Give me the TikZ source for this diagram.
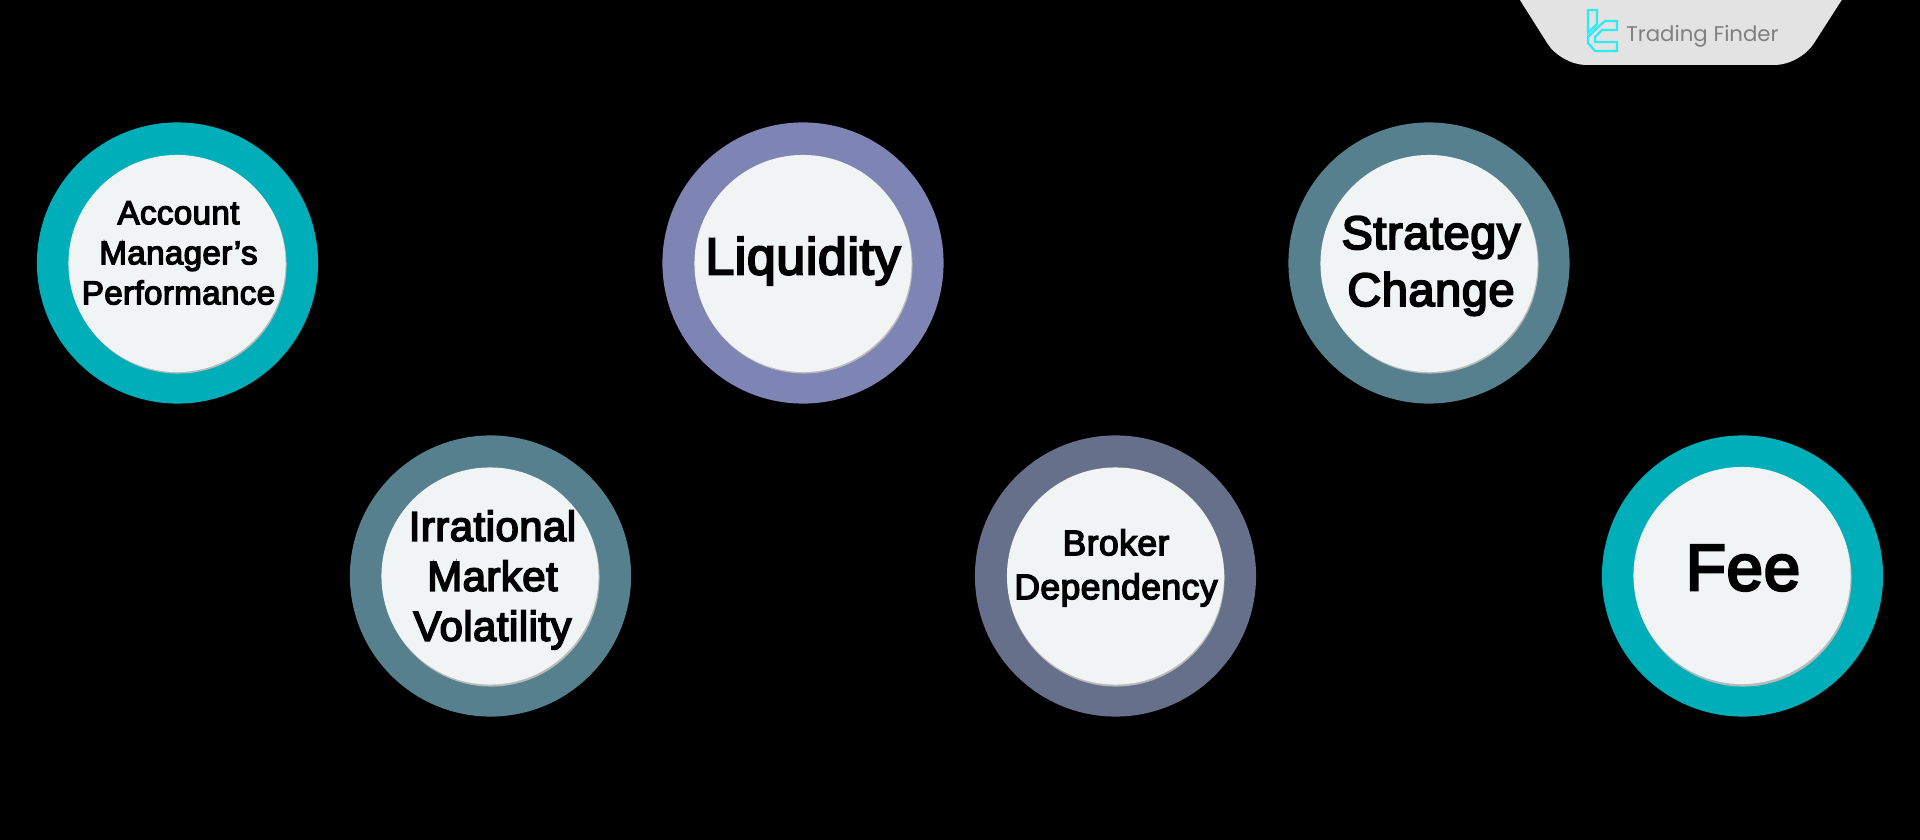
\documentclass[tikz,border=0pt]{standalone}
\usepackage{fontspec}
\setmainfont{Liberation Sans}
\newfontfamily\capfont{Liberation Sans}[FakeBold=4,LetterSpace=1.2]
\newfontfamily\brandfont{Poppins}
\definecolor{tealrim}{HTML}{00AEB9}
\definecolor{violetrim}{HTML}{7E85B5}
\definecolor{slaterim}{HTML}{57808F}
\definecolor{dustrim}{HTML}{66708A}
\definecolor{discwhite}{HTML}{F1F4F5}
\definecolor{logocyan}{HTML}{2CEBF5}
\tikzset{
  rim/.style={circle, minimum size=2.81cm, inner sep=0pt},
  disc/.style={circle, minimum size=2.17cm, inner sep=0pt, fill=discwhite},
  discshade/.style={circle, minimum size=2.17cm, inner sep=0pt, fill=black!27},
  caption/.style={align=center, inner sep=0pt, text=black},
}
\begin{document}
\begin{tikzpicture}[x=0.01cm,y=-0.01cm]
\useasboundingbox (0,0) rectangle (1920,840);
\fill[black] (0,0) rectangle (1920,840);

%top banner
\fill[white!89!black, rounded corners=0.25cm] (1501,-30) -- (1861,-30) -- (1800,65) -- (1561,65) -- cycle;
\draw[logocyan, line width=0.022cm] (1588,10) -- (1597,10) -- (1597,24) -- (1588,33) -- cycle;
\draw[logocyan, line width=0.022cm] (1597,28) -- (1605,21) -- (1617,21) -- (1617,30) -- (1602,30) -- (1595,37) -- (1595,42) -- (1617,42) -- (1617,51) -- (1595,51) -- (1588,43) -- (1588,37) -- cycle;
\node[text=black!50, inner sep=0pt, font=\brandfont\fontsize{6.05}{7}\selectfont] (brand) at (1702.5,36) {Trading Finder};

%circles
\node[rim, fill=tealrim] (acct) at (177.5,263) {};
\node[discshade] (acctshade) at (178,265) {};
\node[disc] (acctdisc) at (177,263.5) {};
\node[caption, font=\capfont\fontsize{9.4}{11.4}\selectfont] (accttext) at (178.5,253) {Account\\Manager’s\\Performance};

\node[rim, fill=slaterim] (irr) at (490.5,576) {};
\node[discshade] (irrshade) at (491,578) {};
\node[disc] (irrdisc) at (490,576) {};
\node[caption, font=\capfont\fontsize{11.9}{14.2}\selectfont] (irrtext) at (492.5,580) {Irrational\\Market\\Volatility};

\node[rim, fill=violetrim] (liq) at (803,263) {};
\node[discshade] (liqshade) at (804,265) {};
\node[disc] (liqdisc) at (803,263.5) {};
\node[caption, font=\capfont\fontsize{14.75}{18}\selectfont] (liqtext) at (803,261) {Liquidity};

\node[rim, fill=dustrim] (brk) at (1115.5,576) {};
\node[discshade] (brkshade) at (1116,578) {};
\node[disc] (brkdisc) at (1115.5,576) {};
\node[caption, font=\capfont\fontsize{10.1}{12.5}\selectfont] (brktext) at (1116,568) {Broker\\Dependency};

\node[rim, fill=slaterim] (strat) at (1429,263) {};
\node[discshade] (stratshade) at (1430,265) {};
\node[disc] (stratdisc) at (1429,263.5) {};
\node[caption, font=\capfont\fontsize{13.35}{16.2}\selectfont] (strattext) at (1431,266) {Strategy\\Change};

\node[rim, fill=tealrim] (fee) at (1742.5,576) {};
\node[discshade] (feeshade) at (1743,578) {};
\node[disc] (feedisc) at (1742,575.5) {};
\node[caption, font=\capfont\fontsize{18.6}{24}\selectfont] (feetext) at (1743,568) {Fee};
\end{tikzpicture}
\end{document}
